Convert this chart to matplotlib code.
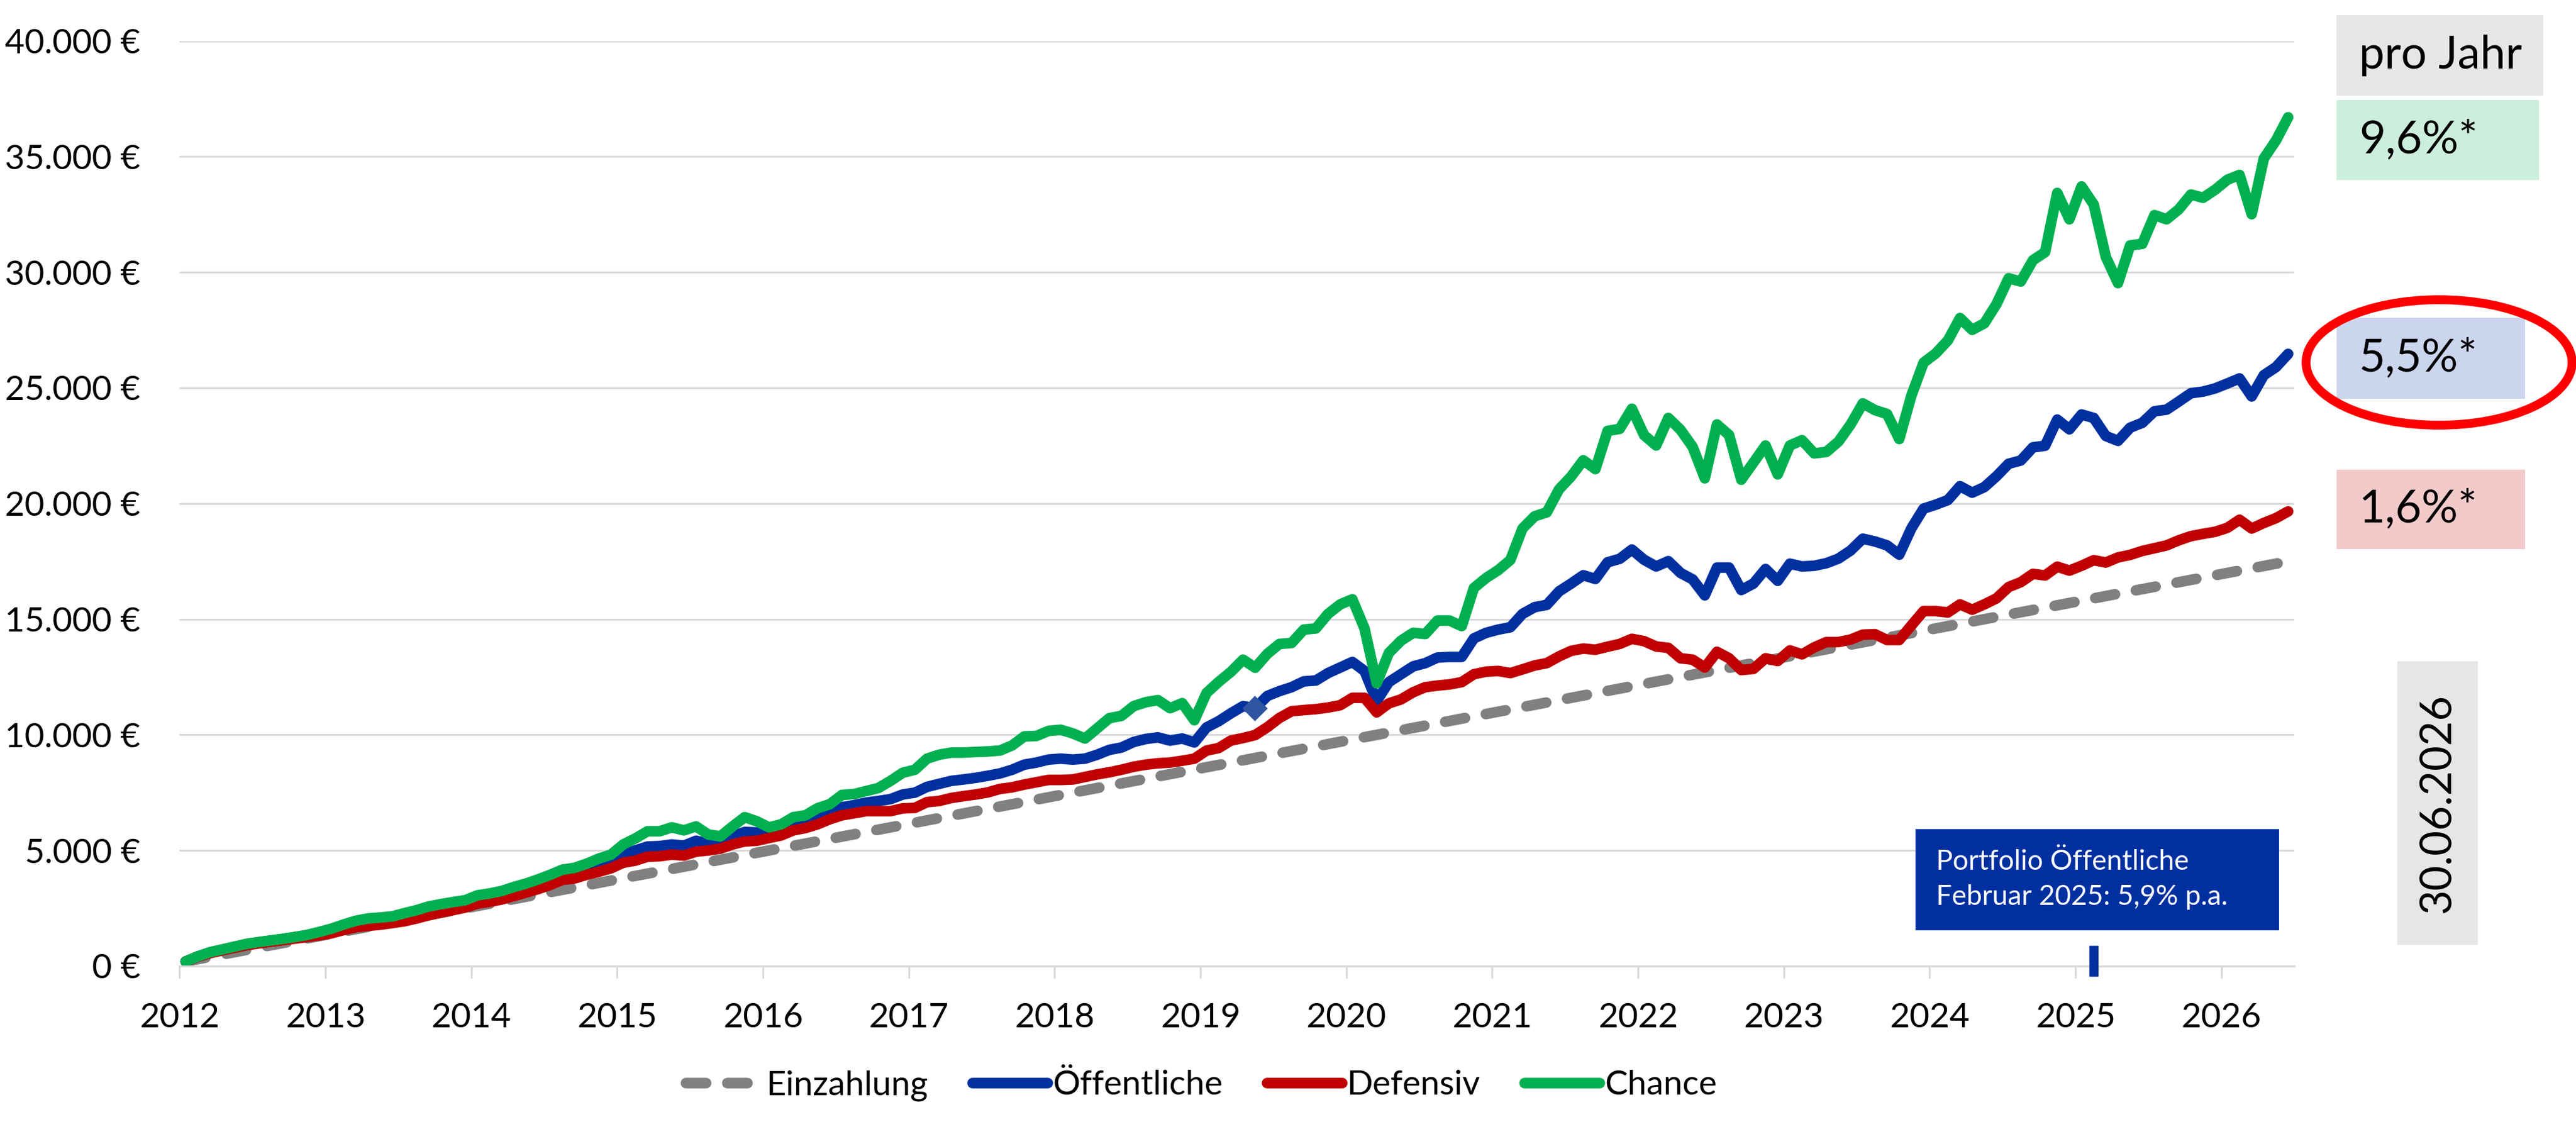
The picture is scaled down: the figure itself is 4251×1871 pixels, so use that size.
import pandas as pd
import matplotlib
matplotlib.use('Agg')
import matplotlib.pyplot as plt
from matplotlib.patches import Rectangle, Ellipse

plt.rcParams['font.family'] = ['Lato', 'DejaVu Sans']

# monthly values Jan 2012 .. Jun 2026 (174 months)
months = pd.period_range('2012-01', '2026-06', freq='M')

chance = [
    200, 420, 600, 720, 840, 960, 1040, 1110, 1180, 1260, 1350, 1480, 1620, 1800, 1960,
    2060, 2100, 2150, 2290, 2420, 2580, 2680, 2770, 2850, 3060, 3140, 3250, 3420, 3570, 3750,
    3950, 4170, 4250, 4430, 4650, 4820, 5260, 5520, 5830, 5830, 6000, 5870, 6040, 5690, 5610,
    6040, 6440, 6260, 6000, 6130, 6440, 6520, 6830, 7000, 7400, 7440, 7570, 7700, 8010, 8360,
    8490, 8970, 9140, 9230, 9230, 9260, 9280, 9320, 9540, 9930, 9950, 10170, 10220, 10060, 9840,
    10280, 10720, 10820, 11240, 11410, 11500, 11150, 11370, 10630, 11810, 12290, 12720, 13250, 12900, 13500,
    13930, 13970, 14550, 14600, 15230, 15640, 15860, 14600, 12230, 13540, 14070, 14410, 14360, 14940, 14940,
    14700, 16350, 16780, 17120, 17560, 18920, 19450, 19620, 20610, 21170, 21870, 21490, 23140, 23230, 24100,
    22960, 22510, 23700, 23190, 22450, 21090, 23420, 22960, 21030, 21770, 22510, 21260, 22510, 22740, 22170,
    22230, 22680, 23420, 24330, 24040, 23870, 22790, 24670, 26090, 26490, 27050, 28020, 27510, 27790, 28620,
    29740, 29600, 30520, 30870, 33430, 32290, 33710, 32930, 30660, 29530, 31160, 31230, 32470, 32290, 32720,
    33360, 33220, 33570, 34000, 34210, 32510, 34920, 35700, 36700,
]

defensiv = [
    200, 400, 560, 680, 790, 900, 980, 1050, 1120, 1190, 1260, 1330, 1420, 1560, 1680,
    1740, 1790, 1860, 1940, 2060, 2200, 2320, 2420, 2530, 2700, 2780, 2880, 3030, 3180, 3330,
    3510, 3730, 3790, 3950, 4080, 4230, 4470, 4560, 4730, 4750, 4820, 4780, 4950, 5000, 5080,
    5260, 5390, 5420, 5540, 5650, 5870, 5970, 6130, 6350, 6520, 6610, 6700, 6700, 6700, 6820,
    6840, 7090, 7140, 7270, 7350, 7420, 7510, 7660, 7730, 7850, 7950, 8050, 8050, 8070, 8180,
    8290, 8380, 8490, 8620, 8710, 8770, 8800, 8880, 8970, 9320, 9430, 9750, 9860, 9990, 10330,
    10730, 11020, 11070, 11110, 11180, 11280, 11600, 11600, 10970, 11360, 11530, 11840, 12060, 12130, 12180,
    12280, 12620, 12730, 12760, 12670, 12830, 13000, 13100, 13390, 13630, 13730, 13680, 13810, 13930, 14150,
    14050, 13820, 13760, 13310, 13250, 12910, 13590, 13310, 12800, 12850, 13310, 13190, 13650, 13480, 13780,
    14010, 14010, 14120, 14330, 14350, 14100, 14100, 14730, 15350, 15350, 15290, 15640, 15410, 15640, 15900,
    16390, 16600, 16960, 16890, 17270, 17100, 17310, 17550, 17450, 17670, 17780, 17950, 18070, 18190, 18410,
    18590, 18690, 18780, 18950, 19300, 18920, 19160, 19370, 19660,
]

oeffentliche = [
    200, 420, 590, 710, 830, 950, 1030, 1100, 1170, 1250, 1330, 1450, 1580, 1740, 1880,
    1970, 2010, 2070, 2190, 2330, 2480, 2580, 2660, 2750, 2930, 3010, 3110, 3270, 3420, 3560,
    3760, 3960, 4040, 4200, 4420, 4600, 4870, 5000, 5170, 5190, 5260, 5210, 5420, 5300, 5260,
    5610, 5800, 5780, 5750, 5830, 6040, 6130, 6440, 6610, 6870, 6960, 7070, 7140, 7220, 7420,
    7500, 7750, 7880, 8010, 8070, 8140, 8230, 8330, 8490, 8710, 8800, 8930, 8970, 8930, 8970,
    9140, 9350, 9450, 9690, 9820, 9890, 9750, 9840, 9670, 10320, 10590, 10930, 11240, 11150, 11680,
    11890, 12060, 12310, 12350, 12670, 12910, 13150, 12760, 11460, 12280, 12620, 12960, 13100, 13340, 13370,
    13370, 14170, 14410, 14550, 14650, 15230, 15520, 15620, 16200, 16540, 16900, 16740, 17460, 17610, 18010,
    17570, 17280, 17510, 17000, 16720, 16030, 17230, 17230, 16260, 16540, 17170, 16660, 17400, 17280, 17310,
    17420, 17620, 17970, 18480, 18360, 18190, 17790, 18930, 19780, 19950, 20150, 20750, 20470, 20710, 21180,
    21720, 21860, 22430, 22500, 23630, 23210, 23850, 23700, 22920, 22710, 23280, 23490, 23990, 24060, 24410,
    24770, 24840, 24980, 25190, 25410, 24630, 25550, 25900, 26470,
]

# deposits: straight line from first to last month
einzahlung_months = ['2012-01', '2026-06']
einzahlung = [200, 17500]

marker_month = '2019-05'      # diamond on Öffentliche
hinweis_month = '2025-02'     # blue pointer at the axis

rates = ['9,6%*', '5,5%*', '1,6%*']
rate_colors = ['#CCEEDC', '#CCD5EE', '#F2CACA']
stichtag = '30.06.2026'
hinweis = 'Portfolio Öffentliche\nFebruar 2025: 5,9% p.a.'

years = list(range(2012, 2027))
yticks = list(range(0, 40001, 5000))

BLUE = '#0030A0'
RED = '#C00000'
GREEN = '#00B050'
GRAY = '#808080'


def month_pos(p):
    p = pd.Period(p, freq='M')
    return p.year + (p.month - 0.5) / 12


x = [month_pos(m) for m in months]
W, H = 4251, 1871
fig = plt.figure(figsize=(W / 300, H / 300), dpi=300)
ax = fig.add_axes([296.4 / W, 1 - 1594 / H, (3786 - 296.4) / W, (1594 - 67.6) / H])

lw = 4.2
ax.plot([month_pos(m) for m in einzahlung_months], einzahlung, color=GRAY, lw=lw,
        dashes=(1.9, 2.0), dash_capstyle='round', label='Einzahlung')
ax.plot(x, oeffentliche, color=BLUE, lw=lw, solid_capstyle='round', solid_joinstyle='round',
        label='Öffentliche')
ax.plot(x, defensiv, color=RED, lw=lw, solid_capstyle='round', solid_joinstyle='round',
        label='Defensiv')
ax.plot(x, chance, color=GREEN, lw=lw, solid_capstyle='round', solid_joinstyle='round',
        label='Chance')

k = list(months.astype(str)).index(marker_month)
ax.plot(x[k], oeffentliche[k], marker='D', ms=7, color='#2F55A0', mew=0, zorder=5)

ax.plot([month_pos(hinweis_month)] * 2, [-450, 900], color=BLUE, lw=3.6,
        solid_capstyle='butt', clip_on=False, zorder=6)

ax.set_xlim(2012, 2026.5)
ax.set_ylim(0, 40000)
ax.set_xticks(years)
ax.set_xticklabels([str(y) for y in years])
ax.set_yticks(yticks)
ax.set_yticklabels([f'{v:,.0f} €'.replace(',', '.') for v in yticks])
ax.tick_params(axis='x', length=4.8, width=0.75, color='#D9D9D9', pad=9.5, labelsize=13.7)
ax.tick_params(axis='y', length=0, pad=15.5, labelsize=13.5)
ax.grid(axis='y', color='#D9D9D9', lw=0.75)
ax.set_axisbelow(True)
for s in ['top', 'right', 'left']:
    ax.spines[s].set_visible(False)
ax.spines['bottom'].set_color('#D9D9D9')
ax.spines['bottom'].set_linewidth(0.75)

ax.legend(loc='center', bbox_to_anchor=(1983 / W, 1 - 1791 / H), bbox_transform=fig.transFigure,
          ncol=4, frameon=False, fontsize=13.5, handlelength=2.2, handletextpad=0.15,
          columnspacing=1.3)


def box(x0, y0, x1, y1, color):
    fig.add_artist(Rectangle((x0 / W, 1 - y1 / H), (x1 - x0) / W, (y1 - y0) / H,
                             transform=fig.transFigure, facecolor=color, edgecolor='none'))


# right side boxes
box(3856, 25, 4197, 158, '#E6E6E6')
fig.text(3893 / W, 1 - 92 / H, 'pro Jahr', fontsize=18, va='center', ha='left')
rate_boxes = [(165, 297, 4190), (524, 658, 4167), (775, 906, 4167)]
for (y0, y1, x1), r, c in zip(rate_boxes, rates, rate_colors):
    box(3856, y0, x1, y1, c)
    fig.text(3893 / W, 1 - (y0 + y1) / 2 / H, r, fontsize=18, va='center', ha='left')

fig.add_artist(Ellipse((4025 / W, 1 - 598 / H), 439 / W, 207 / H, transform=fig.transFigure,
                       fill=False, edgecolor='#FF0000', lw=3.5))

box(3956, 1091, 4089, 1559, '#E6E6E6')
fig.text(4023 / W, 1 - 1325 / H, stichtag, fontsize=17, rotation=90, va='center', ha='center')

# annotation
box(3161, 1368, 3761, 1535, BLUE)
fig.text(3195 / W, 1 - 1451 / H, hinweis, fontsize=11, color='white', va='center', ha='left',
         linespacing=1.45)

fig.savefig('out.png', dpi=300)
